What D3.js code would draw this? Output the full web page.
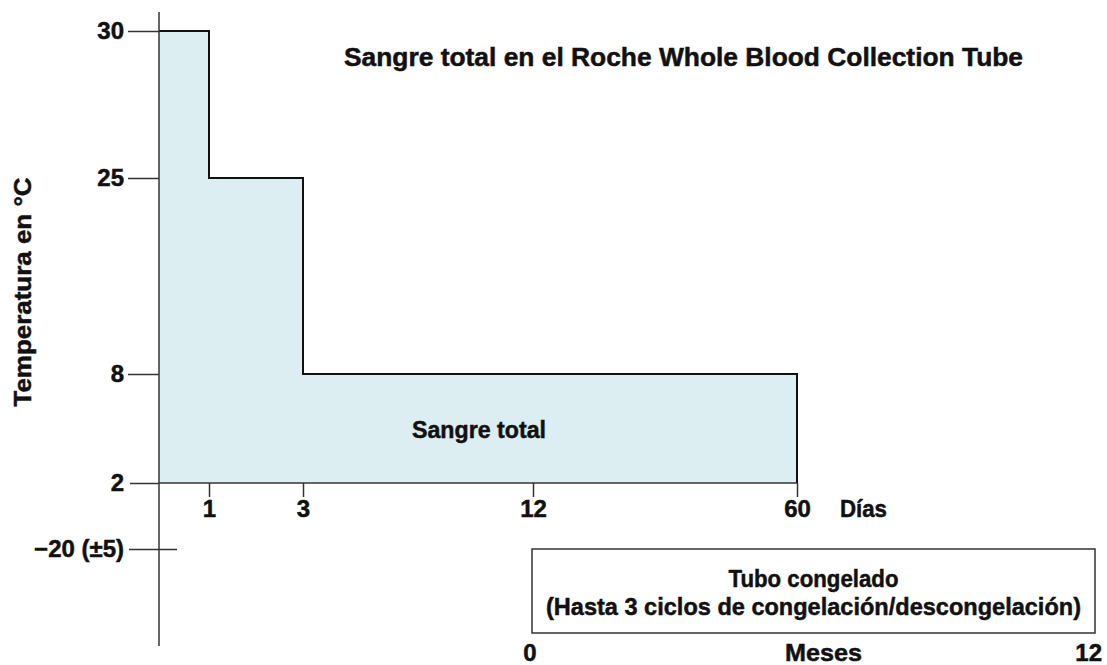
<!DOCTYPE html>
<html>
<head>
<meta charset="utf-8">
<script src="https://cdn.jsdelivr.net/npm/d3@7"></script>
<style>
  body { margin: 0; background: #fff; }
  svg text { font-family: "Liberation Sans", Arial, sans-serif; font-weight: bold; fill: #111; stroke: #111; stroke-width: 0.5px; }
</style>
</head>
<body>
<div id="chart"></div>
<script>
// Datos
const tempTicks = [30, 25, 8, 2, -20];
const tempTickLabels = ['30', '25', '8', '2', '\u221220 (\u00b15)'];
const dayTicks = [1, 3, 12, 60];
const monthTicks = [0, 12];
// escalones: desde el día indicado se mantiene la temperatura
const stepDays = [0, 1, 3, 60];
const stepTemps = [30, 25, 8, 8];
const baseTemp = 2;

const title = 'Sangre total en el Roche Whole Blood Collection Tube';
const areaLabel = 'Sangre total';
const boxLines = ['Tubo congelado', '(Hasta 3 ciclos de congelaci\u00f3n/descongelaci\u00f3n)'];

const width = 1107, height = 665;

const svg = d3.select('#chart').append('svg')
    .attr('width', width)
    .attr('height', height);

// escalas no lineales (por tramos), como en el original
let y = d3.scaleLinear()
    .domain([30, 25, 8, 2, -20])
    .range([31, 178, 374, 483, 549]);

let x = d3.scaleLinear()
    .domain([0, 1, 3, 12, 60])
    .range([159, 209, 303, 533, 797]);

let xMonths = d3.scaleLinear()
    .domain([0, 12])
    .range([532, 1095]);

let stepData = stepDays.map(function(d, i) { return { day: d, temp: stepTemps[i] }; });

// Área
let area = d3.area()
    .curve(d3.curveStepAfter)
    .x(function(d) { return x(d.day); })
    .y0(y(baseTemp))
    .y1(function(d) { return y(d.temp); });

svg.append('path')
    .datum(stepData)
    .attr('d', area)
    .attr('fill', '#ddeef2');

// Contorno escalonado
let line = d3.line()
    .curve(d3.curveStepAfter)
    .x(function(d) { return x(d.day); })
    .y(function(d) { return y(d.temp); });

let outline = stepData.concat([{ day: stepDays[stepDays.length - 1], temp: baseTemp }]);
svg.append('path')
    .datum(outline)
    .attr('d', line)
    .attr('fill', 'none')
    .attr('stroke', '#111')
    .attr('stroke-width', 2);

// Eje Y
let yAxis = svg.append('g')
    .attr('transform', 'translate(' + x(0) + ',0)')
    .call(d3.axisLeft(y)
        .tickValues(tempTicks)
        .tickSize(31)
        .tickPadding(4)
        .tickFormat(function(d, i) { return tempTickLabels[i]; }));

yAxis.select('.domain').remove();
yAxis.selectAll('.tick line').attr('stroke', '#333').attr('stroke-width', 1.5);
yAxis.selectAll('.tick').filter(function(d) { return d === -20; })
    .select('line').attr('x2', -30).attr('x1', 18);
yAxis.selectAll('.tick').filter(function(d) { return d === 2; })
    .select('line').attr('x2', -29);
yAxis.selectAll('.tick text')
    .style('font-size', '24px')
    .attr('fill', '#111');

svg.append('line')
    .attr('x1', x(0)).attr('x2', x(0))
    .attr('y1', y(30) - 19).attr('y2', y(-20) + 97)
    .attr('stroke', '#333')
    .attr('stroke-width', 1.5);

// Eje X (días)
let xAxis = svg.append('g')
    .attr('transform', 'translate(0,' + y(baseTemp) + ')')
    .call(d3.axisBottom(x)
        .tickValues(dayTicks)
        .tickSize(14)
        .tickPadding(3));

xAxis.select('.domain').remove();
xAxis.selectAll('.tick line').attr('stroke', '#333').attr('stroke-width', 1.5);
xAxis.selectAll('.tick text')
    .style('font-size', '24px')
    .attr('fill', '#111');

svg.append('line')
    .attr('x1', x(0)).attr('x2', x(60))
    .attr('y1', y(baseTemp)).attr('y2', y(baseTemp))
    .attr('stroke', '#333')
    .attr('stroke-width', 1.5);

// Título y etiquetas
function fitText(sel, w) {
    sel.attr('textLength', w).attr('lengthAdjust', 'spacingAndGlyphs');
}

svg.append('text')
    .attr('x', x(60) + 43)
    .attr('y', y(baseTemp) + 34)
    .style('font-size', '24px')
    .text('D\u00edas')
    .call(fitText, 47);

svg.append('text')
    .attr('x', 344)
    .attr('y', 66)
    .style('font-size', '25px')
    .text(title)
    .call(fitText, 679);

svg.append('text')
    .attr('x', 412)
    .attr('y', 438)
    .style('font-size', '24px')
    .text(areaLabel)
    .call(fitText, 134);

svg.append('text')
    .attr('transform', 'translate(31,292) rotate(-90)')
    .attr('text-anchor', 'middle')
    .style('font-size', '24px')
    .text('Temperatura en \u00b0C')
    .call(fitText, 229);

// Caja del tubo congelado
svg.append('rect')
    .attr('x', xMonths(0))
    .attr('y', 549)
    .attr('width', xMonths(12) - xMonths(0))
    .attr('height', 84)
    .attr('fill', 'none')
    .attr('stroke', '#333')
    .attr('stroke-width', 1.5);

let boxCenter = xMonths(6);
svg.append('text')
    .attr('x', boxCenter)
    .attr('y', 587)
    .attr('text-anchor', 'middle')
    .style('font-size', '24px')
    .text(boxLines[0])
    .call(fitText, 170);

svg.append('text')
    .attr('x', boxCenter)
    .attr('y', 615)
    .attr('text-anchor', 'middle')
    .style('font-size', '24px')
    .text(boxLines[1])
    .call(fitText, 535);

svg.selectAll('.month-label')
    .data(monthTicks)
    .enter()
    .append('text')
    .attr('class', 'month-label')
    .attr('x', function(d, i) { return i === 0 ? xMonths(d) - 2 : xMonths(d) + 7; })
    .attr('y', 661)
    .attr('text-anchor', function(d, i) { return i === 0 ? 'middle' : 'end'; })
    .style('font-size', '24px')
    .text(function(d) { return d; });

svg.append('text')
    .attr('x', boxCenter + 10)
    .attr('y', 661)
    .attr('text-anchor', 'middle')
    .style('font-size', '24px')
    .text('Meses')
    .call(fitText, 77);
</script>
</body>
</html>
